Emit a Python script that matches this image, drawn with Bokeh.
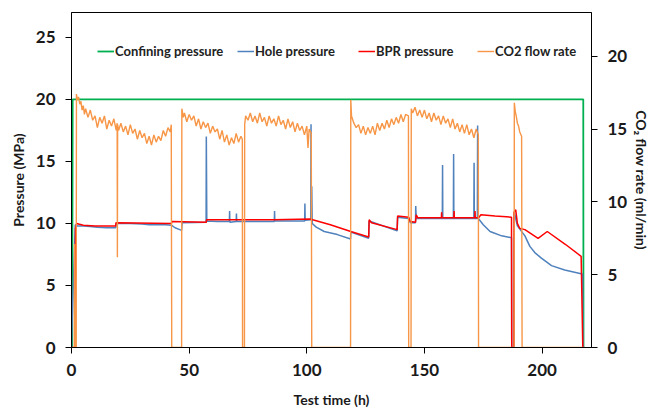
from bokeh.plotting import figure
from bokeh.models import Range1d, LinearAxis, Legend, LegendItem, FixedTicker
from bokeh.embed import file_html
from bokeh.resources import INLINE

# ---------------- data ----------------
confining_t = [0, 0.3, 0.5, 217.5, 217.6, 218.0]
confining_p = [0, 0, 20.0, 20.0, 0, 0]

hole_t = [0, 0.3, 1.6, 2.4, 5, 8, 11, 15, 18.8, 19.0, 25, 30, 33, 40, 42.6, 44, 46, 46.8,
          47.0, 57.2, 57.3, 57.5, 62, 67.1, 67.2, 67.3, 70.0, 70.1, 70.2, 86.2, 86.3, 86.4,
          99.1, 99.2, 99.3, 101.7, 101.8, 101.9, 102.1, 102.3, 104, 107.4, 113, 118.6,
          118.7, 126.3, 126.5, 138.4, 138.6, 143.3, 144.0, 146.2, 146.3, 146.5, 157.6,
          157.7, 157.8, 162.3, 162.4, 162.5, 171.0, 171.1, 171.2, 172.5, 172.6, 172.7,
          172.9, 175, 177.9, 182.8, 187.0, 187.1, 188.0, 188.2, 189.5, 192.7, 194.8,
          196.9, 199.7, 204, 209.6, 216.6, 217.2, 217.3, 217.4]
hole_p = [0, 2.3, 9.9, 9.8, 9.8, 9.75, 9.7, 9.65, 9.65, 10.0, 10.0, 9.95, 9.9, 9.9, 9.85, 9.65, 9.5, 9.45,
          10.05, 10.1, 17.0, 10.2, 10.15, 10.15, 11.0, 10.1, 10.15, 10.8, 10.15, 10.15, 11.0, 10.2,
          10.2, 11.6, 10.25, 10.3, 18.0, 10.4, 13.0, 10.0, 9.7, 9.35, 9.1, 8.75,
          9.3, 8.8, 10.2, 9.4, 10.5, 10.4, 10.05, 10.05, 11.4, 10.4, 10.4,
          14.7, 10.4, 10.4, 15.6, 10.4, 10.4, 14.9, 10.4, 10.4, 17.9, 13.4,
          10.4, 9.9, 9.35, 9.0, 8.85, 0, 0, 10.9, 9.8, 9.0, 8.15,
          7.65, 7.2, 6.6, 6.25, 5.95, 5.9, 2.0, 0]

bpr_t = [0, 1.5, 1.7, 2.2, 3, 5, 10, 18.8, 18.9, 42.5, 42.6, 57.3, 57.4, 86, 101.8, 102.5, 110,
         118.7, 126.3, 126.5, 127.5, 138.4, 138.6, 143.3, 144.0, 146.2, 146.5, 147.2, 157.2,
         157.3, 157.4, 162.5, 162.6, 162.7, 171.4, 171.5, 171.6, 173, 174, 180, 187.0, 187.1,
         188.0, 188.1, 188.8, 189.5, 190.5, 192.7, 198.3, 202.2, 210, 216.6, 217.3]
bpr_p = [0, 0, 9.6, 10.0, 9.95, 9.85, 9.8, 9.8, 10.05, 10.0, 10.15, 10.1, 10.3, 10.3, 10.35, 10.3, 9.9,
         9.35, 8.9, 10.3, 10.05, 9.5, 10.6, 10.5, 10.15, 10.1, 10.7, 10.45, 10.45,
         10.9, 10.45, 10.45, 11.0, 10.45, 10.45, 11.0, 10.45, 10.45, 10.7, 10.6, 10.5, 0,
         0, 10.9, 11.1, 10.0, 9.6, 9.5, 8.8, 9.35, 8.3, 7.35, 0]

flow_t = [0, 1.2, 1.3, 1.5, 2.0,
          2.1, 2.5, 3, 3.5, 4, 4.5, 5, 5.5, 6, 7, 8, 9, 10, 11, 12, 13, 14, 15, 16, 17, 18, 19,
          19.4, 19.5, 19.6, 20, 21, 22, 23, 24, 25, 26, 27, 28, 29, 30, 31, 32, 33, 34, 35, 36,
          37, 38, 39, 40, 41, 42, 42.4, 42.6,
          46.8, 46.9, 47.5, 48, 49, 50, 51, 52, 53, 54, 55, 56, 57, 58, 59, 60, 61, 62, 63, 64,
          65, 66, 67, 68, 69, 70, 71, 72, 72.6, 72.7,
          73.5, 73.6, 74, 75, 76, 77, 78, 79, 80, 81, 82, 83, 84, 85, 86, 87, 88, 89, 90, 91,
          92, 93, 94, 95, 96, 97, 98, 99, 100, 100.5, 101, 101.9, 102.1,
          118.6, 118.7, 119, 120, 121, 122, 123, 124, 125, 126, 127, 128, 129, 130, 131, 132,
          133, 134, 135, 136, 137, 138, 139, 140, 141, 142, 143.2, 143.3,
          144.3, 144.4, 145, 146, 147, 148, 149, 150, 151, 152, 153, 154, 155, 156, 157, 158,
          159, 160, 161, 162, 163, 164, 165, 166, 167, 168, 169, 170, 171, 172, 172.9, 173.0,
          188.1, 188.2, 188.6, 189, 189.5, 190, 190.5, 191.3, 191.5, 218.0]
flow_q = [0, 0, 7.1, 0, 0,
          17.4, 17.0, 17.2, 16.7, 16.9, 16.3, 16.6, 16.0, 16.4, 15.8, 16.3, 15.6, 15.9, 15.1,
          15.8, 15.4, 15.9, 15.0, 15.6, 15.2, 15.7, 14.9,
          15.4, 6.2, 15.3, 14.9, 15.4, 14.8, 15.2, 14.6, 15.3, 14.7, 15.0, 14.3, 14.9, 14.4,
          14.7, 14.0, 14.5, 13.9, 14.6, 14.1, 14.5, 14.2, 14.9, 14.5, 15.1, 14.8, 15.3, 0,
          0, 16.4, 15.8, 16.1, 15.5, 16.0, 15.6, 15.9, 15.2, 15.7, 15.0, 15.5, 15.1, 15.4,
          14.7, 15.2, 14.8, 15.0, 14.3, 14.9, 14.1, 14.6, 13.9, 14.4, 14.0, 14.7, 14.1, 14.5,
          14.3, 0,
          0, 15.3, 15.9, 15.6, 16.1, 15.5, 15.9, 15.4, 16.1, 15.5, 15.8, 15.2, 15.9, 15.4,
          15.7, 15.2, 15.9, 15.3, 15.6, 15.0, 15.7, 15.1, 15.5, 14.8, 15.4, 14.9, 15.2, 14.6,
          15.2, 13.7, 15.0, 14.7, 0,
          0, 17.0, 15.9, 15.4, 15.1, 15.3, 14.7, 15.2, 14.6, 15.1, 14.7, 15.2, 14.6, 15.4,
          14.9, 15.4, 15.0, 15.6, 15.1, 15.7, 15.3, 15.8, 15.4, 16.0, 15.5, 16.0, 15.9, 0,
          0, 16.4, 16.1, 16.5, 15.9, 16.3, 15.8, 16.3, 15.7, 16.1, 15.5, 16.1, 15.6, 15.9,
          15.3, 15.9, 15.4, 15.7, 15.1, 15.7, 15.0, 15.4, 14.8, 15.3, 14.7, 15.3, 14.6, 15.0,
          14.4, 15.0, 14.6, 0,
          0, 16.8, 16.2, 15.9, 15.4, 15.2, 14.8, 14.5, 0, 0]

x_ticks = [0, 50, 100, 150, 200]
left_ticks = [0, 5, 10, 15, 20, 25]
right_ticks = [0, 5, 10, 15, 20]
legend_labels = ["Confining pressure", "Hole pressure", "BPR pressure", "CO2 flow rate"]

# ---------------- figure ----------------
FONT = "Lato"
p = figure(width=653, height=410, output_backend="svg", toolbar_location=None,
           x_range=Range1d(0, 221), y_range=Range1d(0, 27),
           min_border_left=71, min_border_right=61, min_border_top=12, min_border_bottom=62)
p.extra_y_ranges = {"flow": Range1d(0, 23)}
p.xgrid.visible = False
p.ygrid.visible = False
p.outline_line_color = "black"
p.outline_line_width = 1
p.background_fill_color = "white"
p.border_fill_color = "white"

r_conf = p.line(confining_t, confining_p, line_color="#00B050", line_width=1.8)
r_hole = p.line(hole_t, hole_p, line_color="#4F81BD", line_width=1.5)
r_bpr = p.line(bpr_t, bpr_p, line_color="#FF0000", line_width=1.5)
r_flow = p.line(flow_t, flow_q, line_color="#F79646", line_width=1.4, y_range_name="flow")

def style_axis(ax, ticks):
    ax.ticker = FixedTicker(ticks=ticks)
    ax.minor_tick_line_color = None
    ax.major_tick_in = 0
    ax.major_tick_out = 6
    ax.major_tick_line_color = "black"
    ax.axis_line_color = "black"
    ax.major_label_text_font = FONT
    ax.major_label_text_font_style = "bold"
    ax.major_label_text_font_size = "17px"
    ax.major_label_text_color = "#1a1a1a"
    ax.major_label_standoff = 10
    ax.axis_label_text_font = FONT
    ax.axis_label_text_font_style = "bold"
    ax.axis_label_text_font_size = "14px"
    ax.axis_label_text_color = "#1a1a1a"

style_axis(p.xaxis[0], x_ticks)
p.xaxis[0].axis_label = "Test time (h)"
p.xaxis[0].axis_label_standoff = 12
style_axis(p.yaxis[0], left_ticks)
p.yaxis[0].axis_label = "Pressure (MPa)"
p.yaxis[0].axis_label_standoff = 6

right_axis = LinearAxis(y_range_name="flow", axis_label="CO\u2082 flow rate (ml/min)")
style_axis(right_axis, right_ticks)
right_axis.axis_label_standoff = 3
p.add_layout(right_axis, "right")

# one small legend per entry, laid out in a row as in the reference
legend_x = [26, 166, 287, 406]
for lab, rend, lx in zip(legend_labels, [r_conf, r_hole, r_bpr, r_flow], legend_x):
    lg = Legend(items=[LegendItem(label=lab, renderers=[rend])],
                location=(lx, 288), orientation="horizontal",
                border_line_alpha=0, background_fill_alpha=0,
                padding=0, margin=0, glyph_width=17, glyph_height=14,
                label_standoff=1, label_height=14,
                label_text_font=FONT, label_text_font_style="bold",
                label_text_font_size="13px", label_text_color="#222222")
    p.add_layout(lg, "center")

open("out.html", "w").write(file_html(p, INLINE))
